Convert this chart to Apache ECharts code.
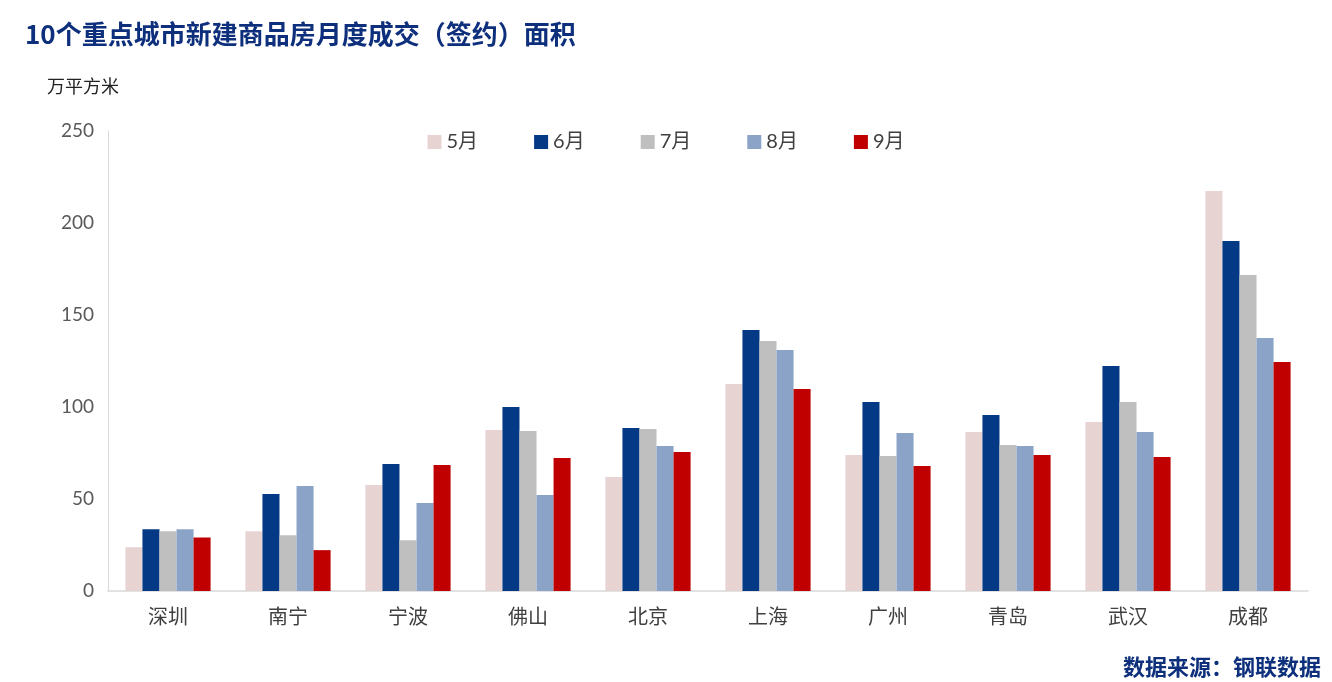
<!DOCTYPE html>
<html><head><meta charset="utf-8">
<script src="https://cdn.jsdelivr.net/npm/echarts@6/dist/echarts.min.js"></script>
<style>html,body{margin:0;padding:0;background:#fff}#c{width:1332px;height:682px}</style>
</head><body><div id="c"></div>
<script>
const categories = ['深圳','南宁','宁波','佛山','北京','上海','广州','青岛','武汉','成都'];
const seriesNames = ['5月','6月','7月','8月','9月'];
const may = [23.8, 32.5, 57.6, 87.5, 62.0, 112.5, 73.9, 86.4, 91.8, 217.4];
const jun = [33.6, 52.7, 69.0, 100.0, 88.6, 141.8, 102.7, 95.7, 122.3, 190.2];
const jul = [32.5, 30.3, 27.6, 87.0, 88.0, 135.9, 73.4, 79.3, 102.7, 171.7];
const aug = [33.6, 57.0, 47.8, 52.2, 78.8, 131.0, 85.9, 78.8, 86.4, 137.5];
const sep = [29.1, 22.2, 68.5, 72.3, 75.5, 109.8, 67.9, 73.9, 72.8, 124.5];
const colors = ['#e8d3d3','#043a85','#bfbfbf','#8ba3c7','#c00000'];
const values = [may, jun, jul, aug, sep];

const chart = echarts.init(document.getElementById('c'));
chart.setOption({
  animation:false,
  backgroundColor:'#fff',
  title:[
    {text:'10个重点城市新建商品房月度成交（签约）面积', left:20, top:16,
     textStyle:{fontFamily:'Noto Sans CJK SC', fontSize:26, fontWeight:'bold', color:'#0d2f7c'}},
    {text:'万平方米', left:42, top:72,
     textStyle:{fontFamily:'Noto Sans CJK SC', fontSize:18, fontWeight:'normal', color:'#222'}},
    {text:'数据来源：钢联数据', right:6, top:651,
     textStyle:{fontFamily:'Noto Sans CJK SC', fontSize:22, fontWeight:'bold', color:'#0d2f7c'}}
  ],
  legend:{
    data:seriesNames, top:127, left:'center', itemWidth:14, itemHeight:14, itemGap:56,
    icon:'rect',
    textStyle:{fontFamily:'Lato, Noto Sans CJK SC', fontSize:20, color:'#404040'}
  },
  grid:{left:108, right:24, top:131, bottom:91, containLabel:false},
  xAxis:{
    type:'category', data:categories,
    axisLine:{lineStyle:{color:'#d9d9d9', width:1.5}},
    axisTick:{show:false},
    axisLabel:{fontFamily:'Noto Sans CJK SC', fontSize:20, color:'#404040', margin:15}
  },
  yAxis:{
    type:'value', min:0, max:250, interval:50,
    axisLine:{show:true, lineStyle:{color:'#d9d9d9', width:1}},
    axisTick:{show:false},
    splitLine:{show:false},
    axisLabel:{fontFamily:'Lato, Liberation Sans', fontSize:19, color:'#595959', margin:14}
  },
  series: seriesNames.map((n,i)=>({
    name:n, type:'bar', data:values[i], barGap:'0%', barCategoryGap:'29%',
    itemStyle:{color:colors[i]}
  }))
});
</script></body></html>
